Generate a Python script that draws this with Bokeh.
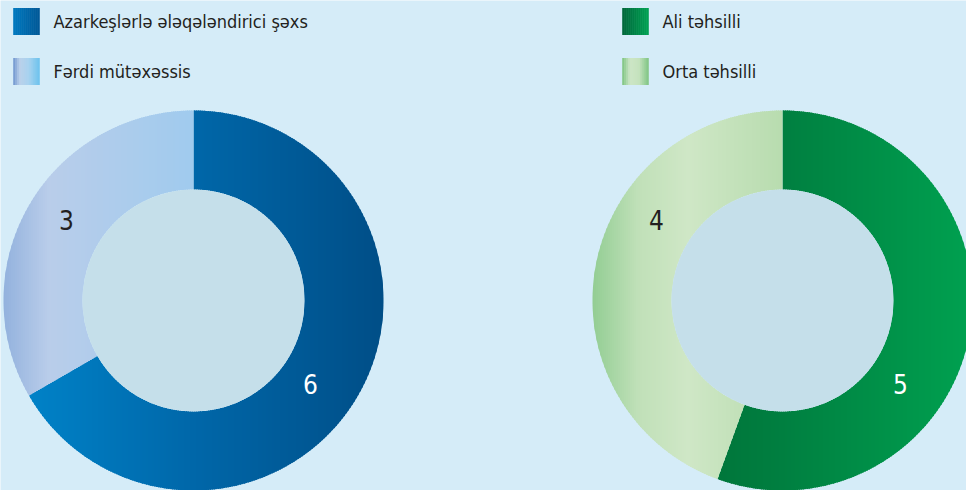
import numpy as np
from bokeh.plotting import figure
from bokeh.models import Range1d
from bokeh.embed import file_html
from bokeh.resources import INLINE
from bokeh.core.properties import value

# ---------------- data ----------------
left_labels = ["Azarkeşlərlə ələqələndirici şəxs", "Fərdi mütəxəssis"]
left_values = [6, 3]
right_labels = ["Ali təhsilli", "Orta təhsilli"]
right_values = [5, 4]

# ---------------- styles / layout ----------------
BG = "#d5ecf8"
HOLE = "#c5dfea"
FONT = "'Liberation Sans Narrow', 'DejaVu Sans Condensed', 'Roboto', sans-serif"
W, H = 966, 490
OFF = 0  # data coords == page pixel coords
R_OUT, R_IN = 190, 111
centers = [(193, 300), (782, 300)]
legend_x = [(13, 53), (622, 662)]        # swatch left, text left
legend_y = [21, 71]
label_offsets = [[(117, 83), (-127, -81)], [(118, 83), (-126, -81)]]
label_colors = ["white", "#231f20"]

# gradient stops (fraction across donut width) per segment
grad = [
    [[(0, "#0086cc"), (0.5, "#0067a9"), (1, "#004e87")],
     [(0, "#92b1dd"), (0.12, "#b9cdea"), (0.5, "#a0cbee"), (1, "#a0cbee")]],
    [[(0, "#006531"), (0.5, "#007f40"), (1, "#00a150")],
     [(0, "#92cd93"), (0.12, "#c0e0b8"), (0.25, "#cfe7c6"), (0.5, "#b8dcaf"), (1, "#b8dcaf")]],
]
swatch_grad = [
    [[(0, "#0079c0"), (1, "#005896")],
     [(0, "#6d95cf"), (0.25, "#bad0ea"), (0.6, "#a7d2ef"), (1, "#6cc2ee")]],
    [[(0, "#00663a"), (1, "#00a253")],
     [(0, "#7cc47f"), (0.3, "#cde6c5"), (0.65, "#c4e2bc"), (1, "#7fc584")]],
]


def hex2rgb(h):
    h = h.lstrip("#")
    return np.array([int(h[i:i + 2], 16) for i in (0, 2, 4)], dtype=float)


def interp_color(stops, f):
    f = min(max(f, 0.0), 1.0)
    for (f0, c0), (f1, c1) in zip(stops[:-1], stops[1:]):
        if f0 <= f <= f1:
            t = 0 if f1 == f0 else (f - f0) / (f1 - f0)
            c = hex2rgb(c0) * (1 - t) + hex2rgb(c1) * t
            return "#%02x%02x%02x" % tuple(int(round(v)) for v in c)
    return stops[-1][1]


def clip(poly, xa, keep_greater):
    out = []
    n = len(poly)
    for i in range(n):
        cx_, cy_ = poly[i]
        px_, py_ = poly[i - 1]
        cin = cx_ >= xa if keep_greater else cx_ <= xa
        pin = px_ >= xa if keep_greater else px_ <= xa
        if cin:
            if not pin:
                t = (xa - px_) / (cx_ - px_)
                out.append((xa, py_ + t * (cy_ - py_)))
            out.append((cx_, cy_))
        elif pin:
            t = (xa - px_) / (cx_ - px_)
            out.append((xa, py_ + t * (cy_ - py_)))
    return out


def sector_poly(cx, cy, t0, t1):
    # t measured clockwise from top, degrees; y axis points down (page coords)
    ts = np.linspace(t0, t1, max(int(abs(t1 - t0)), 2) + 1)
    th = np.radians(90 - ts)
    outer = [(cx + R_OUT * np.cos(a), cy - R_OUT * np.sin(a)) for a in th]
    inner = [(cx + R_IN * np.cos(a), cy - R_IN * np.sin(a)) for a in th[::-1]]
    return outer + inner


p = figure(width=W, height=H, output_backend="svg", toolbar_location=None,
           x_range=Range1d(OFF, OFF + W), y_range=Range1d(OFF + H, OFF),
           min_border=0, background_fill_color=BG, border_fill_color=BG)
p.axis.visible = False
p.grid.visible = False
p.outline_line_color = None

xs_all, ys_all, cols_all = [], [], []
for d, (values, (cx, cy)) in enumerate(zip([left_values, right_values], centers)):
    total = float(sum(values))
    start = 0.0
    for s, v in enumerate(values):
        span = 360.0 * v / total
        poly = sector_poly(cx, cy, start, start + span)
        start += span
        xmin = min(q[0] for q in poly)
        xmax = max(q[0] for q in poly)
        step = 2.0
        xa = np.floor(xmin)
        while xa < xmax:
            xb = xa + step
            piece = clip(clip(poly, xa - 0.5, True), xb + 0.5, False)
            if len(piece) >= 3:
                f = ((xa + xb) / 2 - (cx - R_OUT)) / (2 * R_OUT)
                xs_all.append([q[0] for q in piece])
                ys_all.append([q[1] for q in piece])
                cols_all.append(interp_color(grad[d][s], f))
            xa = xb

p.patches(xs_all, ys_all, fill_color=cols_all, line_color=None)

# donut holes
p.circle(x=[c[0] for c in centers], y=[c[1] for c in centers], radius=R_IN,
         fill_color=HOLE, line_color=None)

# value labels
for d, (values, (cx, cy)) in enumerate(zip([left_values, right_values], centers)):
    p.text(x=[cx + o[0] for o in label_offsets[d]], y=[cy + o[1] for o in label_offsets[d]],
           text=[str(v) for v in values], text_color=label_colors,
           text_font=value(FONT), text_font_size="26px",
           text_align="center", text_baseline="middle")

# legends with gradient swatches
sw_x, sw_y, sw_c = [], [], []
for d, labels in enumerate([left_labels, right_labels]):
    x0, tx = legend_x[d]
    for s, lab in enumerate(labels):
        yc = legend_y[s]
        n = 13
        for k in range(n):
            f = (k + 0.5) / n
            sw_x.append(x0 + 2 * k + 1)
            sw_y.append(yc)
            sw_c.append(interp_color(swatch_grad[d][s], f))
    p.text(x=[tx] * len(labels), y=legend_y[:len(labels)], text=labels,
           text_color="#231f20", text_font=value(FONT), text_font_size="18px",
           text_align="left", text_baseline="middle")
p.rect(x=sw_x, y=sw_y, width=2.6, height=27, fill_color=sw_c, line_color=None)

html = file_html(p, INLINE)
html = html.replace("<body>", '<body style="background-color:%s;">' % BG, 1)
open("out.html", "w").write(html)
